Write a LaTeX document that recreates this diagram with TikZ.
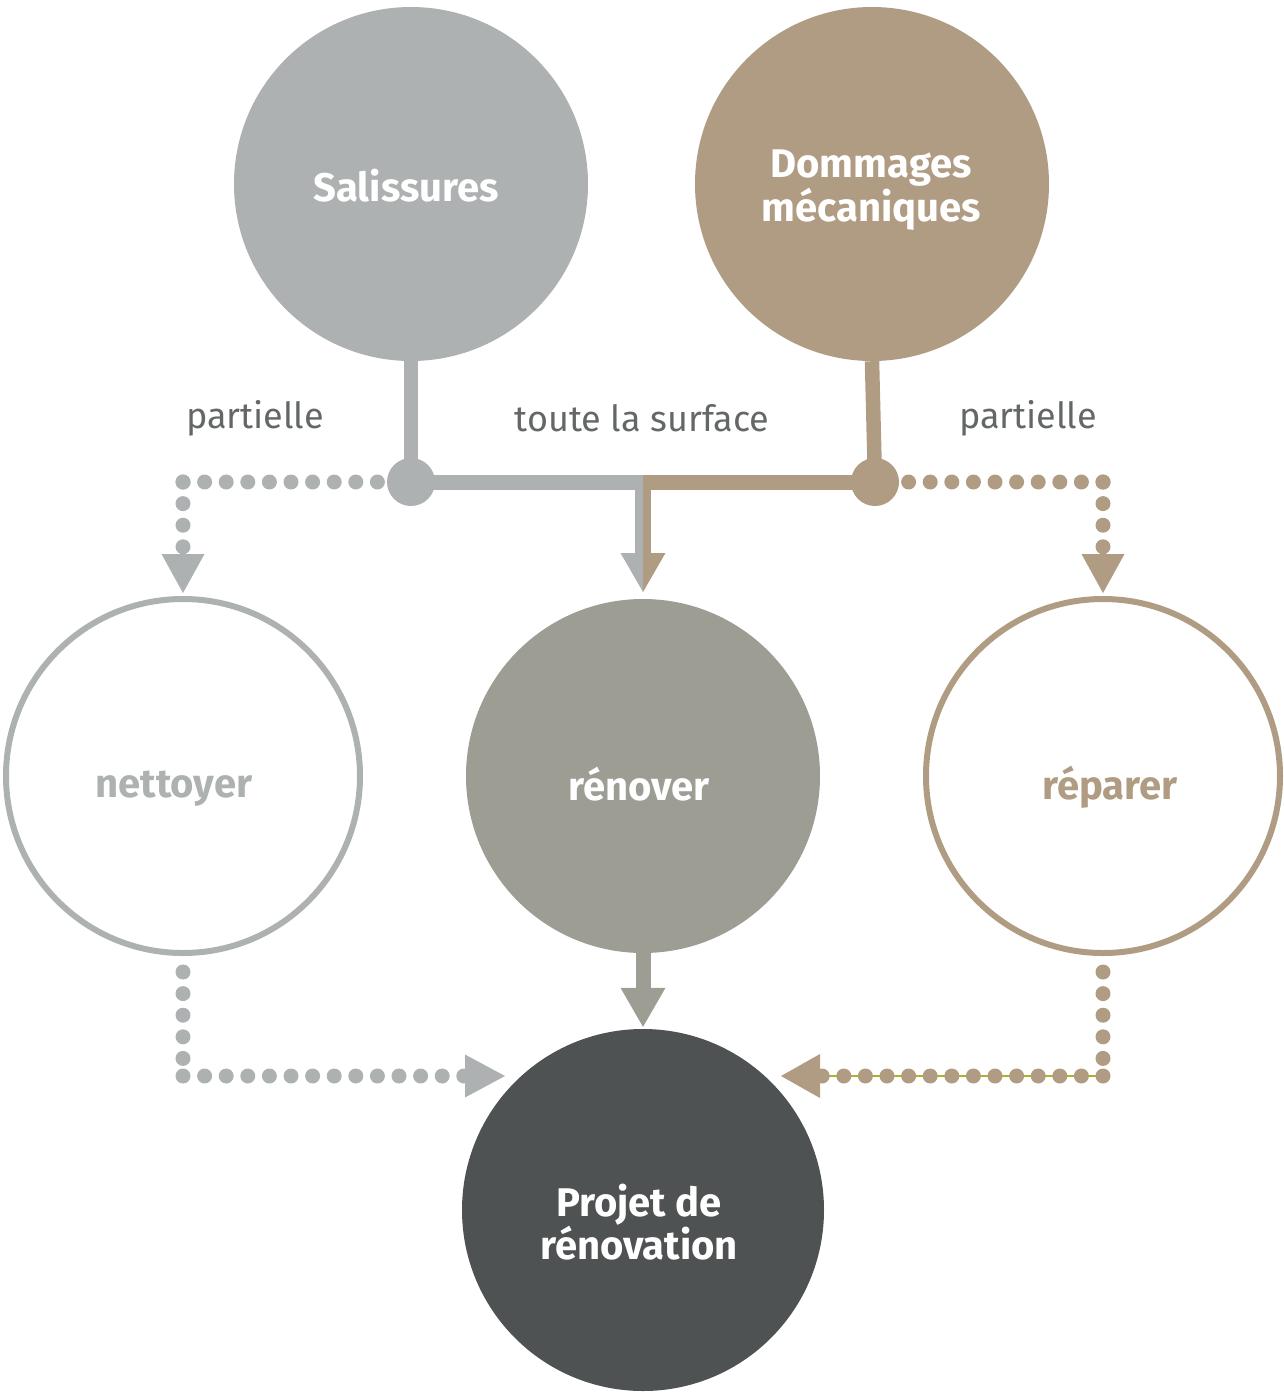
\documentclass[tikz,border=0pt]{standalone}
\usepackage{fontspec}
\setmainfont{Fira Sans}
\definecolor{salc}{RGB}{174,177,177}
\definecolor{domc}{RGB}{176,156,130}
\definecolor{renc}{RGB}{157,157,148}
\definecolor{projc}{RGB}{78,82,82}
\definecolor{lblc}{RGB}{100,103,104}
\definecolor{olivec}{RGB}{170,180,40}
\tikzset{
  fillcirc/.style={circle, inner sep=0pt, minimum size=354pt},
  ringcirc/.style={circle, inner sep=0pt, minimum size=354pt, line width=6pt, fill=white},
  ctext/.style={align=center, inner sep=0pt, font=\fontsize{40}{39}\selectfont\bfseries},
  jdot/.style={circle, inner sep=0pt, minimum size=48pt},
  lbl/.style={text=lblc, font=\fontsize{36}{40}\selectfont},
  thickline/.style={line width=14.5pt},
  halfline/.style={line width=8pt},
  dotline/.style={line width=15pt, line cap=round, dash pattern=on 0pt off 21.6pt},
}
\begin{document}
\begin{tikzpicture}[x=1pt,y=-1pt]
\useasboundingbox (0,0) rectangle (1284,1393);
% circles
\node[fillcirc, fill=salc,
  label={[ctext, text=white, xshift=-5pt, yshift=-2pt]center:Salissures}] (sal) at (411,184) {};
\node[fillcirc, fill=domc,
  label={[ctext, text=white, xshift=-1pt, yshift=-6pt]center:Dommages\\mécaniques}] (dom) at (872,184) {};
\node[ringcirc, draw=salc,
  label={[ctext, text=salc, xshift=-9pt, yshift=-13pt]center:nettoyer}] (net) at (183,776) {};
\node[fillcirc, fill=renc,
  label={[ctext, text=white, xshift=-4pt, yshift=-8pt]center:rénover}] (ren) at (643,776) {};
\node[ringcirc, draw=domc,
  label={[ctext, text=domc, xshift=7pt, yshift=-11pt]center:réparer}] (rep) at (1103,776) {};
\node[fillcirc, fill=projc, minimum size=362pt,
  label={[ctext, text=white, xshift=-4pt, yshift=-12pt]center:Projet de\\rénovation}] (proj) at (643,1210) {};
% junction dots
\node[jdot, fill=salc] (sdot) at (411,482) {};
\node[jdot, fill=domc] (bdot) at (875,482) {};
% labels
\node[lbl] (l1) at (255,418) {partielle};
\node[lbl] (l2) at (642,418) {toute la surface};
\node[lbl] (l3) at (1028,418) {partielle};
% coordinates
\coordinate (mid) at (643,482);
\coordinate (gtop) at (639,474.75);
\coordinate (gbot) at (639,555);
\coordinate (btop) at (647,474.75);
\coordinate (bbot) at (647,555);
\coordinate (rtip) at (643,592);
\coordinate (lc1) at (183,482);
\coordinate (lb1) at (183,548);
\coordinate (rc1) at (1103,482);
\coordinate (rb1) at (1103,548);
\coordinate (ls2) at (183,972);
\coordinate (lc2) at (183,1076);
\coordinate (le2) at (466,1076);
\coordinate (rs2) at (1103,972);
\coordinate (rc2) at (1103,1076);
\coordinate (re2) at (820,1076);
\coordinate (pend) at (643,989);
% solid connectors
\draw[thickline, salc] (sal.south) -- (sdot.center);
\draw[thickline, domc] (dom.south) -- (bdot.center);
\draw[line width=15pt, salc] (sdot.center) -- (mid);
\draw[line width=15pt, domc] (bdot.center) -- (mid);
\draw[halfline, salc] (gtop) -- (gbot);
\draw[halfline, domc] (btop) -- (bbot);
\fill[salc] (rtip) -- ++(-22.5,-39) -- ++(22.5,0) -- cycle;
\fill[domc] (rtip) -- ++(22.5,-39) -- ++(-22.5,0) -- cycle;
% dotted connectors top
\draw[dotline, salc] (lc1) -- (sdot.center);
\draw[dotline, salc] (lc1) -- (lb1);
\fill[salc] (183,593) -- ++(-21.5,-39) -- ++(43,0) -- cycle;
\draw[dotline, domc] (rc1) -- (bdot.center);
\draw[dotline, domc] (rc1) -- (rb1);
\fill[domc] (1103,593) -- ++(-21.5,-39) -- ++(43,0) -- cycle;
% renover to projet
\draw[line width=15pt, renc] (ren.south) -- (pend);
\fill[renc] (proj.north) ++(0,-2) -- ++(-22.5,-39) -- ++(45,0) -- cycle;
% dotted connectors bottom
\draw[dotline, salc] (ls2) -- (lc2);
\draw[dotline, salc] (lc2) -- (le2);
\fill[salc] (505,1076) -- ++(-40,-21.5) -- ++(0,43) -- cycle;
\draw[line width=1.2pt, olivec] (rc2) -- (re2);
\draw[dotline, domc] (rs2) -- (rc2);
\draw[dotline, domc] (rc2) -- (re2);
\fill[domc] (781,1076) -- ++(39,-22) -- ++(0,44) -- cycle;
\end{tikzpicture}
\end{document}
